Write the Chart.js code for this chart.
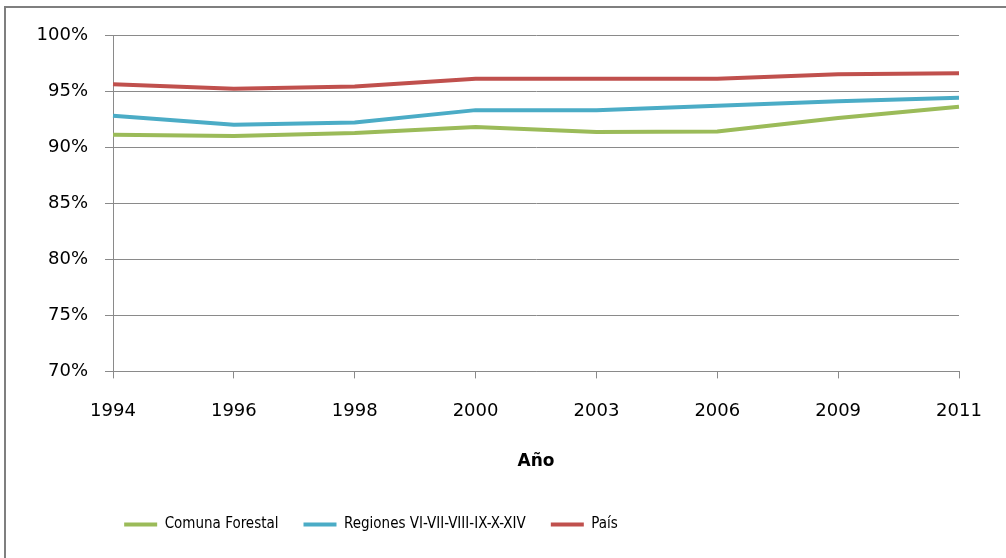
<!DOCTYPE html>
<html><head><meta charset="utf-8">
<script src="https://cdn.jsdelivr.net/npm/chart.js@4/dist/chart.umd.min.js"></script>
<style>
html,body{margin:0;padding:0;background:#fff;overflow:hidden;width:1006px;height:558px}
#frame{position:absolute;left:4px;top:6px;width:1030px;height:600px;border-left:2px solid #7f7f7f;border-top:2px solid #7f7f7f;}
#wrap{position:absolute;left:0;top:0;width:1006px;height:558px}
</style></head><body>
<div id="frame"></div>
<div id="wrap"><canvas id="c" width="1006" height="558"></canvas></div>
<script>
const years = ['1994','1996','1998','2000','2003','2006','2009','2011'];
const comunaForestal = [91.1, 91.0, 91.25, 91.8, 91.35, 91.4, 92.6, 93.6];
const regiones = [92.8, 92.0, 92.2, 93.3, 93.3, 93.7, 94.1, 94.4];
const pais = [95.6, 95.2, 95.4, 96.1, 96.1, 96.1, 96.5, 96.6];
const seriesNames = ['Comuna Forestal', 'Regiones VI-VII-VIII-IX-X-XIV', 'País'];
const seriesColors = ['#9BBB59', '#4BACC6', '#C0504D'];
const yMin = 70, yMax = 100, yStep = 5;
const xTitle = 'Año';

const gridColor = '#8a8a8a';
const tickFont = {family: 'DejaVu Sans', size: 18};

const ds = [comunaForestal, regiones, pais].map((d, i) => ({
  label: seriesNames[i], data: d,
  borderColor: seriesColors[i], backgroundColor: seriesColors[i],
  borderWidth: 4, pointRadius: 0, tension: 0, fill: false
}));

const legendShift = {
  id: 'legendShift',
  afterLayout(chart) {
    const l = chart.legend;
    if (l) { l.left = 0; l.right = 742; }
  }
};

new Chart(document.getElementById('c'), {
  type: 'line',
  data: {labels: years, datasets: ds},
  plugins: [legendShift],
  options: {
    responsive: false, animation: false, devicePixelRatio: 1,
    layout: {padding: {top: 35, right: 47, left: 0, bottom: 16}},
    plugins: {
      tooltip: {enabled: false},
      legend: {
        position: 'bottom',
        labels: {
          font: {family: "'Liberation Sans Narrow', 'DejaVu Sans Condensed'", size: 15},
          color: '#000', boxWidth: 33, boxHeight: 4, padding: 25,
          generateLabels(chart) {
            return chart.data.datasets.map((d, i) => ({
              text: d.label, fillStyle: d.borderColor, strokeStyle: d.borderColor,
              lineWidth: 0, hidden: false, datasetIndex: i, fontColor: '#000'
            }));
          }
        }
      }
    },
    scales: {
      x: {
        offset: false,
        afterFit(s) { s.height = 120.6; },
        grid: {display: true, drawOnChartArea: false, drawTicks: true, tickLength: 7, color: gridColor},
        border: {display: true, color: gridColor, width: 1},
        ticks: {font: tickFont, color: '#000', padding: 22, maxRotation: 0, autoSkip: false},
        title: {display: true, text: xTitle, color: '#000', font: {family: 'DejaVu Sans', size: 17, weight: 'bold'}, padding: {top: 10, bottom: 20}}
      },
      y: {
        min: yMin, max: yMax,
        afterFit(s) { s.width = 113; },
        grid: {display: true, drawOnChartArea: true, drawTicks: true, tickLength: 8, color: gridColor},
        border: {display: true, color: gridColor, width: 1},
        ticks: {stepSize: yStep, font: tickFont, color: '#000', padding: 17, callback: v => v + '%'}
      }
    }
  }
});
</script>
</body></html>
